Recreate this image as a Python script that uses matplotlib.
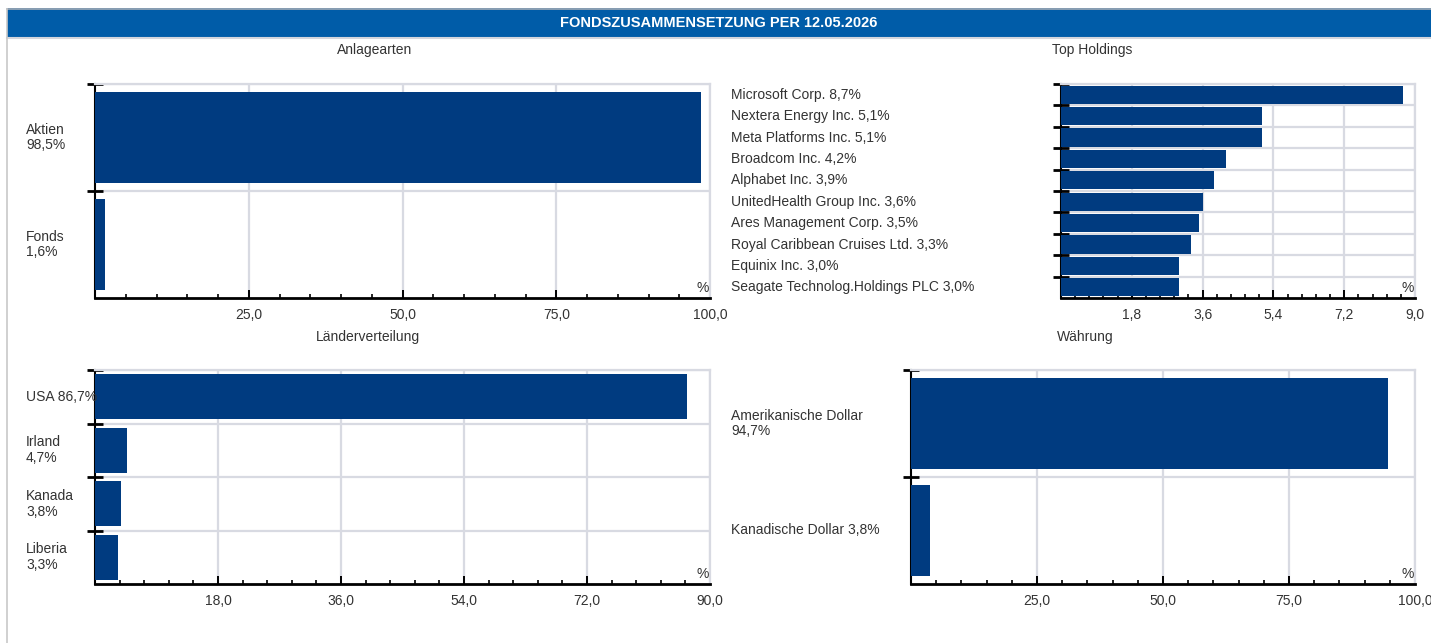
import matplotlib
matplotlib.use("Agg")
import matplotlib.pyplot as plt
from matplotlib.patches import Rectangle
from matplotlib.lines import Line2D
from matplotlib.transforms import blended_transform_factory
import numpy as np

plt.rcParams['font.family'] = ['Liberation Sans', 'DejaVu Sans']

# Daten
anlage_labels = ["Aktien\n98,5%", "Fonds\n1,6%"]
anlage_werte = [98.5, 1.6]

top_labels = ["Microsoft Corp. 8,7%", "Nextera Energy Inc. 5,1%", "Meta Platforms Inc. 5,1%",
              "Broadcom Inc. 4,2%", "Alphabet Inc. 3,9%", "UnitedHealth Group Inc. 3,6%",
              "Ares Management Corp. 3,5%", "Royal Caribbean Cruises Ltd. 3,3%",
              "Equinix Inc. 3,0%", "Seagate Technolog.Holdings PLC 3,0%"]
top_werte = [8.7, 5.1, 5.1, 4.2, 3.9, 3.6, 3.5, 3.3, 3.0, 3.0]

laender_labels = ["USA 86,7%", "Irland\n4,7%", "Kanada\n3,8%", "Liberia\n3,3%"]
laender_werte = [86.7, 4.7, 3.8, 3.3]

waehrung_labels = ["Amerikanische Dollar\n94,7%", "Kanadische Dollar 3,8%"]
waehrung_werte = [94.7, 3.8]

W, H = 1431, 643
BAR = '#003b80'
GRID = '#d8dae2'
TXT = '#333333'
FS = 10

fig = plt.figure(figsize=(W / 100, H / 100), dpi=100)


def px_box(x0, y0, x1, y1):
    # Pixel (oben links) -> Figure-Koordinaten
    return [x0 / W, 1 - y1 / H, (x1 - x0) / W, (y1 - y0) / H]


# Kopfzeile
fig.patches.append(Rectangle((7 / W, 1 - 37 / H), 1, 29 / H, transform=fig.transFigure,
                             facecolor='#005ca8', edgecolor='none'))
fig.lines.append(Line2D([7 / W, 1], [1 - 8.5 / H] * 2, transform=fig.transFigure, color='#a3abb5', lw=1.2))
fig.lines.append(Line2D([7 / W, 1], [1 - 38 / H] * 2, transform=fig.transFigure, color='#d3d6dd', lw=1.5))
fig.lines.append(Line2D([7 / W] * 2, [0, 1 - 8.5 / H], transform=fig.transFigure, color='#c8c8c8', lw=1.2))
fig.text(719 / W, 1 - 23 / H, "FONDSZUSAMMENSETZUNG PER 12.05.2026", color='white',
         fontsize=10.5, fontweight='bold', ha='center', va='center')


def panel(box, titel, titel_pos, labels, werte, label_x, xmax, step):
    ax = fig.add_axes(px_box(*box))
    n = len(werte)
    y = np.arange(n)
    ax.barh(y, werte, height=0.85, color=BAR, zorder=3)
    ax.set_ylim(n - 0.5, -0.5)
    ax.set_xlim(0, xmax)
    ax.set_axisbelow(True)

    n_major = int(round(xmax / step))
    majors = np.arange(1, n_major + 1) * step
    ax.set_xticks(majors)
    ax.set_xticklabels([f"{v:.1f}".replace('.', ',') for v in majors])
    minors = [i * step / 5 for i in range(1, n_major * 5) if i % 5 != 0]
    ax.set_xticks(minors, minor=True)
    ax.set_yticks(np.arange(n) - 0.5)
    ax.set_yticklabels([])

    ax.tick_params(axis='x', which='major', direction='in', length=6, width=1.4,
                   color='black', labelsize=FS, labelcolor=TXT, pad=7)
    ax.tick_params(axis='x', which='minor', direction='in', length=3, width=1.2, color='black')
    ax.tick_params(axis='y', which='major', direction='inout', length=11, width=2, color='black')

    ax.grid(True, which='major', color=GRID, lw=1.6)
    for s in ('top', 'right'):
        ax.spines[s].set_color(GRID)
        ax.spines[s].set_linewidth(1.6)
    ax.spines['bottom'].set_color('black')
    ax.spines['bottom'].set_linewidth(2)
    ax.spines['left'].set_color('black')
    ax.spines['left'].set_linewidth(1.5)

    ax.text(0.998, 0.012, "%", transform=ax.transAxes, ha='right', va='bottom',
            fontsize=FS, color=TXT)

    tr = blended_transform_factory(fig.transFigure, ax.transData)
    for i, lab in enumerate(labels):
        ax.text(label_x / W, i, lab, transform=tr, ha='left', va='center',
                fontsize=FS, color=TXT, linespacing=1.15, clip_on=False)

    fig.text(titel_pos[0] / W, 1 - titel_pos[1] / H, titel, ha='center', va='center',
             fontsize=FS, color=TXT)
    return ax


panel((95, 84, 710, 298), "Anlagearten", (375, 50), anlage_labels, anlage_werte, 26, 100, 25)
panel((1061, 84, 1415, 298), "Top Holdings", (1092, 50), top_labels, top_werte, 731, 9, 1.8)
panel((95, 370, 710, 584), "Länderverteilung", (368, 337), laender_labels, laender_werte, 26, 90, 18)
panel((911, 370, 1415, 584), "Währung", (1085, 337), waehrung_labels, waehrung_werte, 731, 100, 25)

fig.savefig("out.png", dpi=100, facecolor='white')
